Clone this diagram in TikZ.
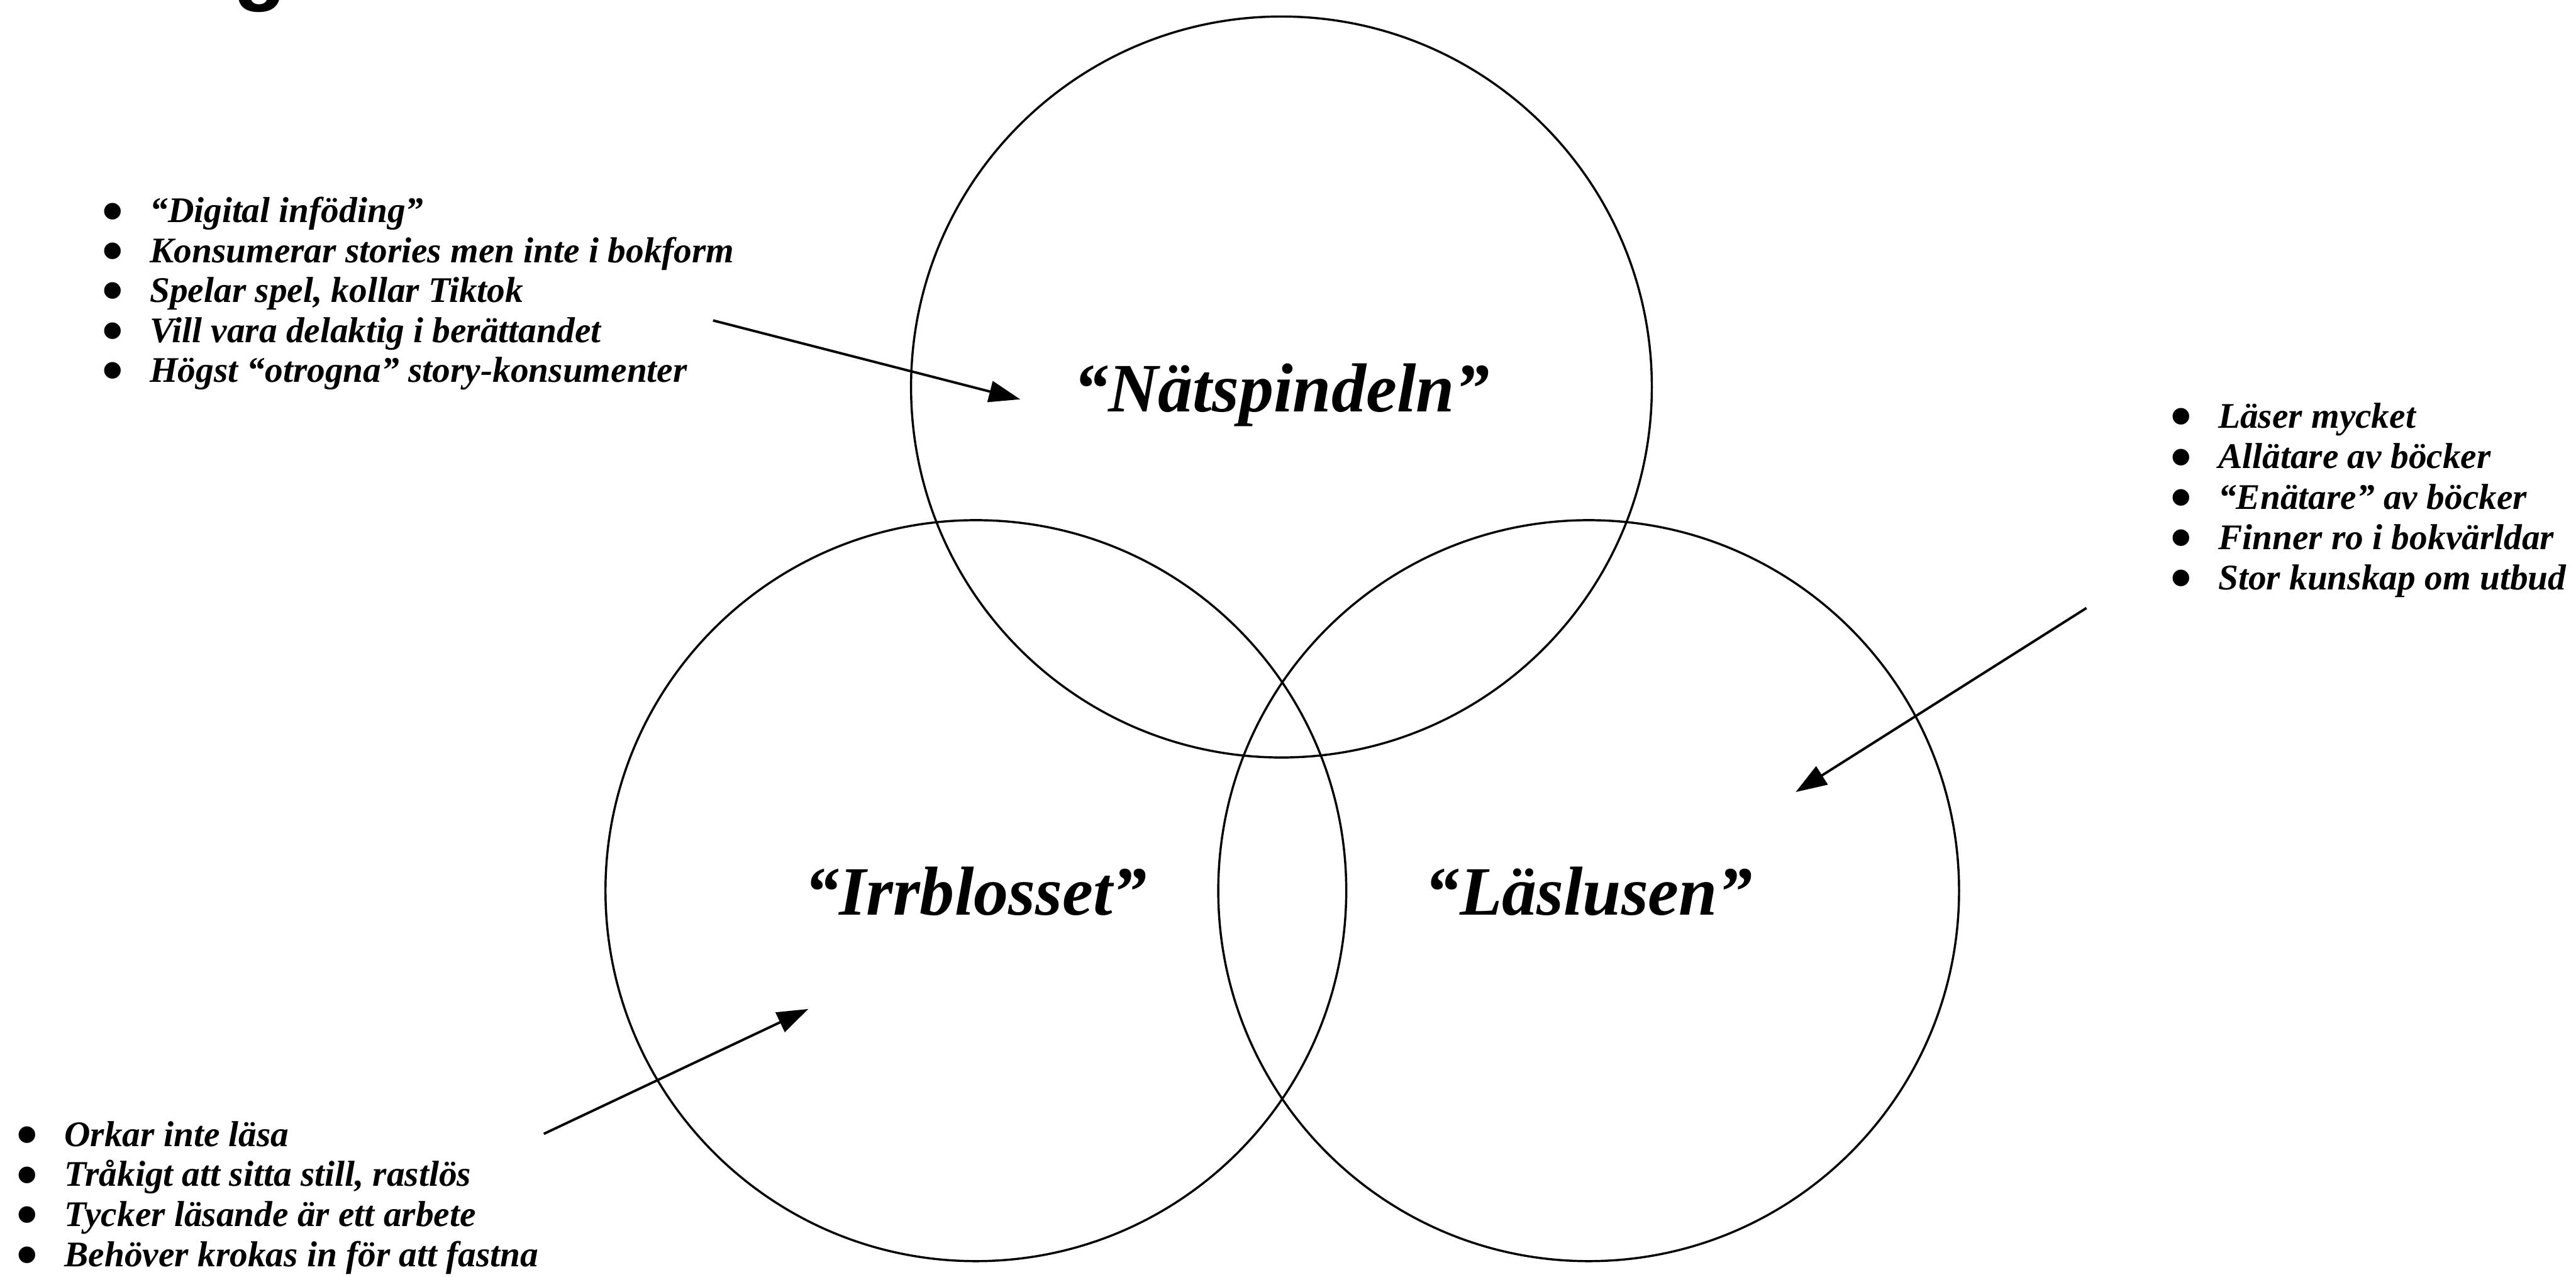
\documentclass[tikz,border=0pt]{standalone}
\usepackage{fontspec}
\setmainfont{Liberation Serif}
\newfontfamily\rubrikfont{Liberation Sans}
\usetikzlibrary{arrows.meta,positioning}
\tikzset{x=0.02cm, y=-0.02cm, % one unit = one pixel of the sketch
        krets/.style={ % the three persona circles
            circle, draw, line width=0.75pt,
            minimum size=9.02cm, inner sep=0pt,
            font=\fontsize{24}{24}\selectfont\bfseries\itshape,
            text height=17pt, text depth=0pt},
        punkt/.style={ % one line of a bullet list
            anchor=base west, inner sep=0pt,
            font=\fontsize{12.5}{13.8}\selectfont\bfseries\itshape},
        pil/.style={ % arrows from the lists into the circles
            draw, line width=0.85pt,
            -{Triangle[length=0.38cm,width=0.26cm]}}
        }
\newcommand{\kula}{\makebox[0.59cm][l]{\raisebox{-0.25em}[0pt][0pt]{\scalebox{1.7}{\textbullet}}}}

\begin{document}
\begin{tikzpicture}
    \useasboundingbox (0,0) rectangle (1568,777);

    % heading, cut off by the top edge
    \node[anchor=base west, inner sep=0pt,
          font=\rubrikfont\fontsize{30}{30}\selectfont\bfseries] (rubrik) at (142,-3.5) {g};

    \node[krets] (natspindeln) at (780,235.5) {“Nätspindeln”};
    \node[krets] (irrblosset)  at (594,542)   {“Irrblosset”};
    \node[krets] (laslusen)    at (967,542)   {“Läslusen”};

    % bullet lists
    \foreach \rad [count=\i] in {“Digital inföding”, Konsumerar stories men inte i bokform,
            {Spelar spel, kollar Tiktok}, Vill vara delaktig i berättandet,
            Högst “otrogna” story-konsumenter}
        \node[punkt] (natlista\i) at (61.4,{135.4+24.3*(\i-1)}) {\kula\rad};

    \foreach \rad [count=\i] in {Läser mycket, Allätare av böcker, “Enätare” av böcker,
            Finner ro i bokvärldar, Stor kunskap om utbud}
        \node[punkt] (laslista\i) at (1320.4,{260.5+24.6*(\i-1)}) {\kula\rad};

    \foreach \rad [count=\i] in {Orkar inte läsa, {Tråkigt att sitta still, rastlös},
            Tycker läsande är ett arbete, Behöver krokas in för att fastna}
        \node[punkt] (irrlista\i) at (9.4,{697.5+24.4*(\i-1)}) {\kula\rad};

    \coordinate (natstart) at (434,195);
    \coordinate (natmal)   at (621,243);
    \coordinate (lasstart) at (1270,370);
    \coordinate (lasmal)   at (1093,482);
    \coordinate (irrstart) at (331,690);
    \coordinate (irrmal)   at (492,614);

    \draw[pil] (natstart) -- (natmal);
    \draw[pil] (lasstart) -- (lasmal);
    \draw[pil] (irrstart) -- (irrmal);
\end{tikzpicture}
\end{document}
